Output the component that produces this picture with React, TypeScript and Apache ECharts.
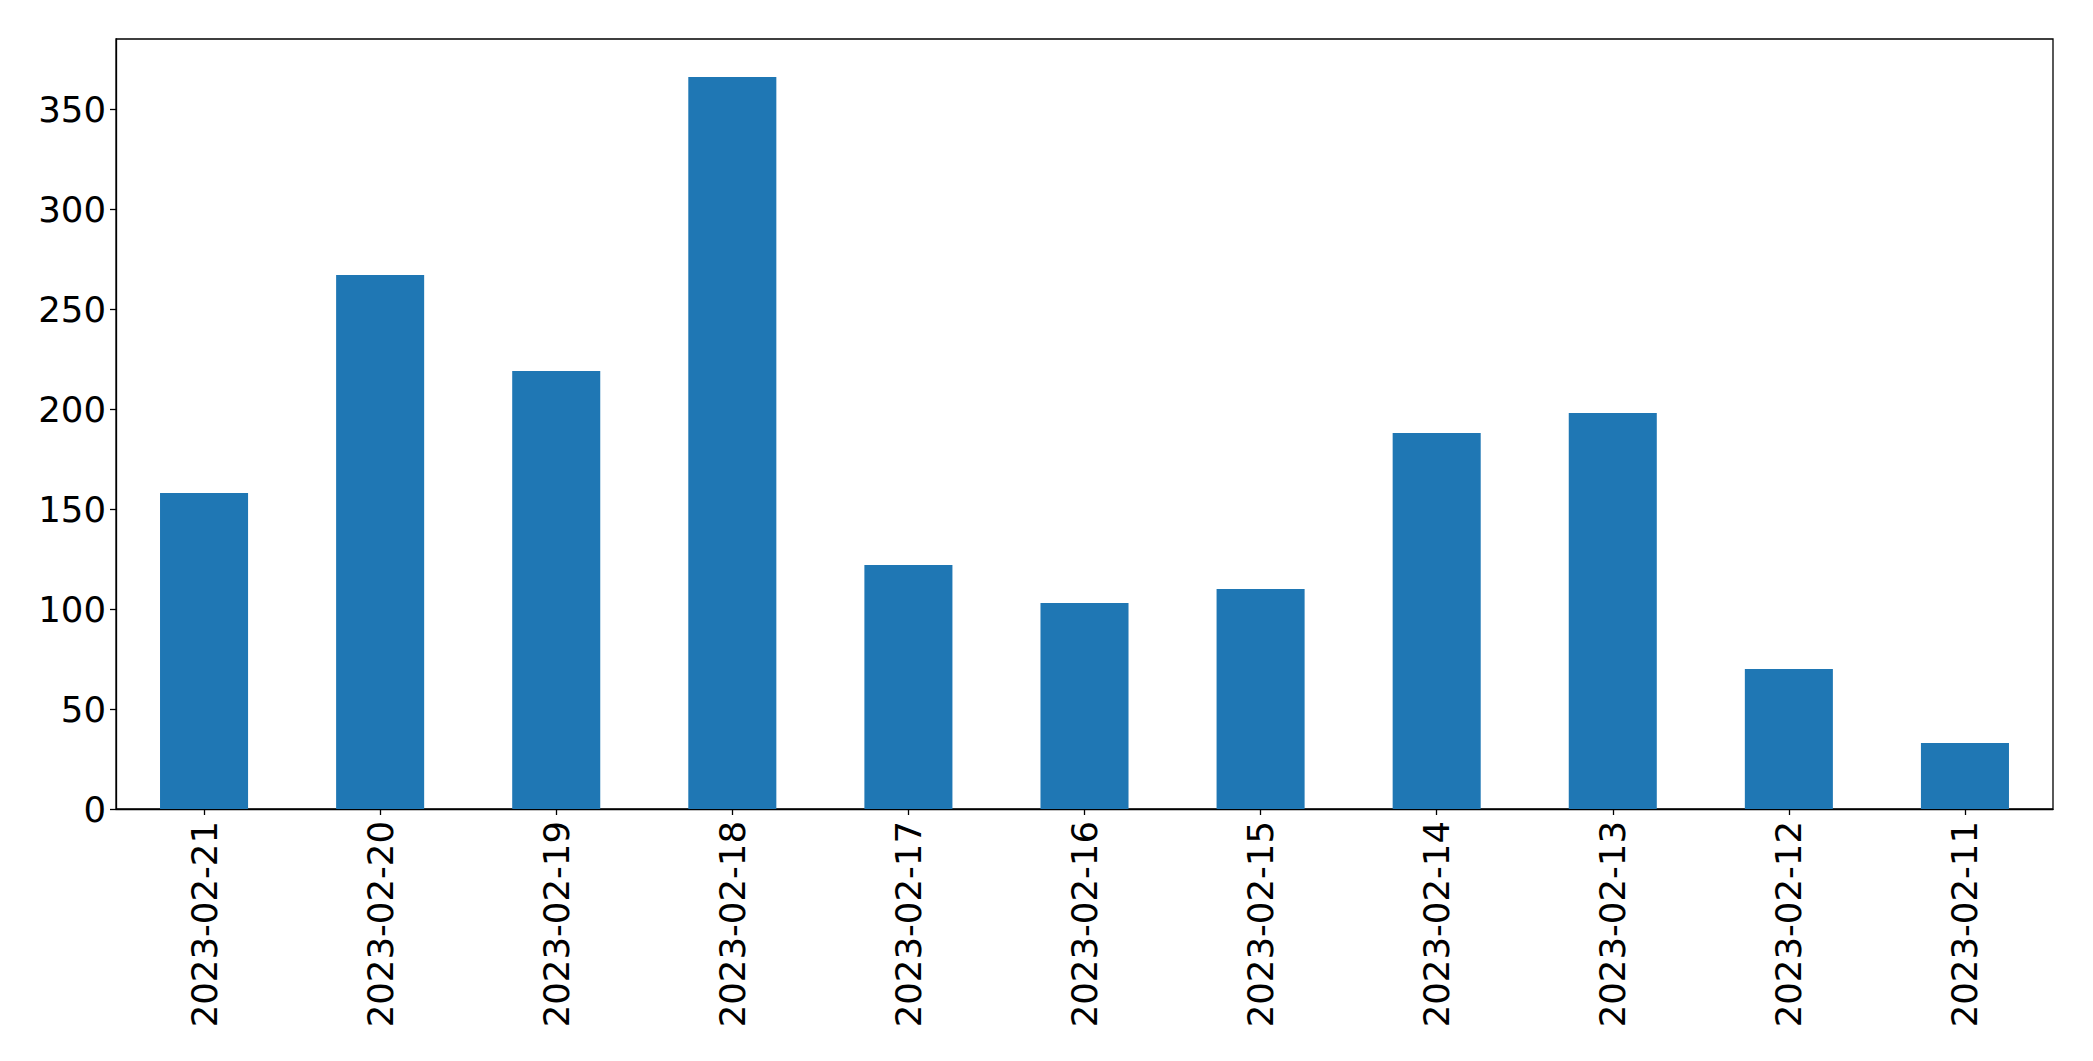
import React, { useEffect, useRef } from "react";
import * as echarts from "echarts";

const categories = [
  "2023-02-21", "2023-02-20", "2023-02-19", "2023-02-18", "2023-02-17", "2023-02-16",
  "2023-02-15", "2023-02-14", "2023-02-13", "2023-02-12", "2023-02-11",
];
const values = [158, 267, 219, 366, 122, 103, 110, 188, 198, 70, 33];
const yTicks = [0, 50, 100, 150, 200, 250, 300, 350];

export default function App() {
  const ref = useRef<HTMLDivElement>(null);
  useEffect(() => {
    if (!ref.current) return;
    const chart = echarts.init(ref.current, null, { renderer: "svg" });
    const font = "DejaVu Sans";
    chart.setOption({
      animation: false,
      backgroundColor: "#ffffff",
      grid: {
        left: 116,
        right: 40,
        top: 39,
        bottom: 252,
        show: true,
        borderColor: "#000000",
        borderWidth: 1.3,
        backgroundColor: "transparent",
      },
      xAxis: {
        type: "category",
        data: categories,
        axisLine: { show: true, lineStyle: { color: "#000", width: 1.3 } },
        axisTick: { show: true, alignWithLabel: true, length: 6, lineStyle: { color: "#000", width: 1.3 } },
        axisLabel: {
          rotate: 90,
          interval: 0,
          margin: 12,
          fontFamily: font,
          fontSize: 35.5,
          color: "#000",
        },
        splitLine: { show: false },
      },
      yAxis: {
        type: "value",
        min: 0,
        max: 385,
        interval: 50,
        axisLine: { show: true, lineStyle: { color: "#000", width: 1.3 } },
        axisTick: { show: true, length: 6, lineStyle: { color: "#000", width: 1.3 } },
        axisLabel: {
          margin: 10,
          showMaxLabel: false,
          fontFamily: font,
          fontSize: 35.5,
          color: "#000",
          formatter: (v: number) => (yTicks.includes(v) ? String(v) : ""),
        },
        splitLine: { show: false },
      },
      series: [
        {
          type: "bar",
          data: values,
          barWidth: "50%",
          itemStyle: { color: "#1f77b4" },
        },
      ],
    });
    return () => chart.dispose();
  }, []);
  return (
    <div
      ref={ref}
      style={{ position: "fixed", left: 0, top: 0, width: 2093, height: 1061, background: "#fff" }}
    />
  );
}
